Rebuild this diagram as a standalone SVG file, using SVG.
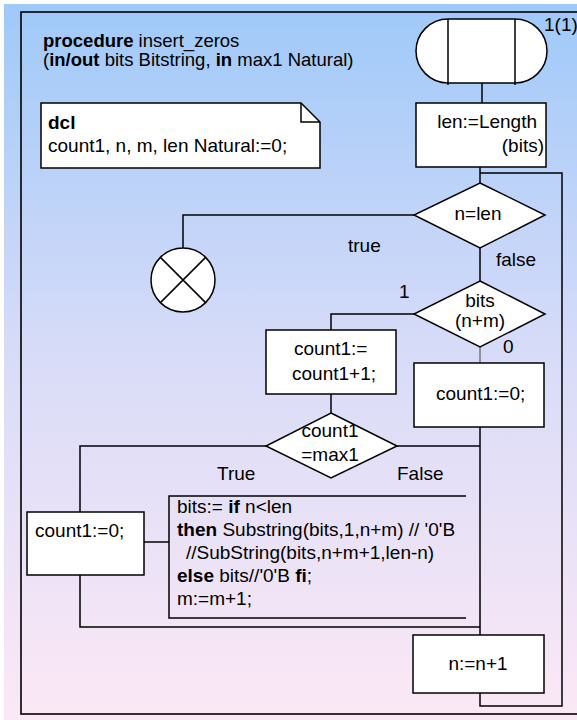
<svg xmlns="http://www.w3.org/2000/svg" width="577" height="720" viewBox="0 0 577 720">
<defs>
<linearGradient id="bg" x1="0" y1="0" x2="0" y2="1">
<stop offset="0" stop-color="#9fc9f9"/>
<stop offset="0.5" stop-color="#d9dcf8"/>
<stop offset="1" stop-color="#fce8f5"/>
</linearGradient>
<style>
text{font-family:"Liberation Sans",Arial,sans-serif;font-size:19px;fill:#000}
.b{font-weight:bold}
.s{fill:#fff;stroke:#000;stroke-width:1.5}
.l{fill:none;stroke:#000;stroke-width:1.5}
.m{text-anchor:middle}
.e{text-anchor:end}
</style>
</defs>
<rect x="4" y="4" width="573" height="716" fill="url(#bg)"/>
<rect id="frame" x="21" y="12" width="570" height="702" fill="none" stroke="#000" stroke-width="1.6"/>
<g id="title">
<text x="43" y="47" style="font-size:18.5px"><tspan class="b">procedure</tspan> insert_zeros</text>
<text x="43" y="66" style="font-size:18.5px">(<tspan class="b">in/out</tspan> bits Bitstring, <tspan class="b">in</tspan> max1 Natural)</text>
</g>
<g id="dcl">
<path class="s" d="M41,103 H301 L320,122 V168 H41 Z"/>
<path class="l" d="M301,103 V122 H320"/>
<text x="48" y="129" class="b">dcl</text>
<text x="48" y="152">count1, n, m, len Natural:=0;</text>
</g>
<g id="connectors" class="l">
<path d="M482,83 V103"/>
<path d="M480,167 V183"/>
<path d="M480,173 H562 V706 H480 V693"/>
<path d="M414,215 H183 V248"/>
<path d="M480,248 V281"/>
<path d="M414,314 H331 V330"/>
<path d="M480,347 V363" stroke="#777"/>
<path d="M331,394 V413"/>
<path d="M480,427 V635"/>
<path d="M397,446 H480"/>
<path d="M266,446 H80 V512"/>
<path d="M80,575 V627 H480"/>
<path d="M144,542 H169"/>
</g>
<g id="start">
<path class="s" d="M448,19 H515 A32,32 0 0 1 515,83 H448 A32,32 0 0 1 448,19 Z"/>
<path class="l" d="M448,19 V85 M515,19 V85"/>
<text x="544" y="31">1(1)</text>
</g>
<g id="len">
<rect class="s" x="416" y="103" width="130" height="64"/>
<text x="537" y="128" class="e">len:=Length</text>
<text x="544" y="152" class="e">(bits)</text>
</g>
<g id="dec_nlen">
<path class="s" d="M480,183 L545,215 L480,248 L414,215 Z"/>
<text x="478" y="220" class="m">n=len</text>
<text x="348" y="252">true</text>
<text x="496" y="266">false</text>
</g>
<g id="stop">
<circle class="s" cx="183" cy="280" r="32"/>
<path class="l" d="M160.4,257.4 L205.6,302.6 M205.6,257.4 L160.4,302.6"/>
</g>
<g id="dec_bits">
<path class="s" d="M480,281 L545,314 L480,347 L414,314 Z"/>
<text x="480" y="307" class="m">bits</text>
<text x="480" y="327" class="m">(n+m)</text>
<text x="399" y="298">1</text>
<text x="503" y="353">0</text>
</g>
<g id="inc">
<rect class="s" x="266" y="330" width="130" height="64"/>
<text x="294" y="355">count1:=</text>
<text x="292" y="380">count1+1;</text>
</g>
<g id="reset1">
<rect class="s" x="414" y="363" width="130" height="64"/>
<text x="436" y="400">count1:=0;</text>
</g>
<g id="dec_max">
<path class="s" d="M331,413 L397,446 L331,478 L266,446 Z"/>
<text x="330" y="437" class="m">count1</text>
<text x="330" y="461" class="m">=max1</text>
<text x="217" y="480">True</text>
<text x="397" y="480">False</text>
</g>
<g id="reset2">
<rect class="s" x="27" y="512" width="117" height="63"/>
<text x="35" y="537">count1:=0;</text>
</g>
<g id="code">
<path class="l" d="M466,496 H169 V618 H466"/>
<text x="177" y="513">bits:= <tspan class="b">if</tspan> n&lt;len</text>
<text x="177" y="536"><tspan class="b">then</tspan> Substring(bits,1,n+m) // '0'B</text>
<text x="186" y="559">//SubString(bits,n+m+1,len-n)</text>
<text x="177" y="582"><tspan class="b">else</tspan> bits//'0'B <tspan class="b">fi</tspan>;</text>
<text x="177" y="605">m:=m+1;</text>
</g>
<g id="incn">
<rect class="s" x="413" y="635" width="131" height="58"/>
<text x="478" y="670" class="m">n:=n+1</text>
</g>
</svg>
